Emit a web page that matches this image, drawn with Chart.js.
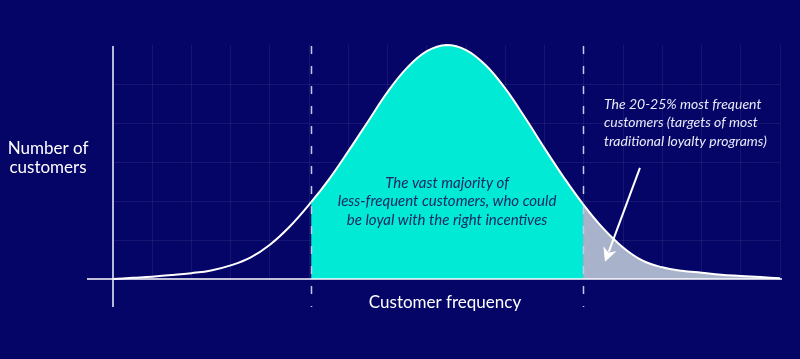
<!DOCTYPE html>
<html><head><meta charset="utf-8">
<script src="https://cdn.jsdelivr.net/npm/chart.js@4"></script>
<style>
html,body{margin:0;padding:0;background:#050568;}
#wrap{width:800px;height:359px;position:relative;}
</style>
</head><body>
<div id="wrap"><canvas id="c"></canvas></div>
<script>
// Customer frequency (x, in grid units) and number of customers (y, in grid units)
const frequency = [0,0.5,1,1.5,2,2.5,3,3.5,4,4.5,5.05,5.5,6,6.5,7,7.5,8,8.5,9,9.5,10,10.5,11,11.5,11.98,12.5,13,13.5,14,14.5,15,15.5,16,16.5,17];
const customers = [0,0.03,0.06,0.10,0.15,0.22,0.35,0.55,0.88,1.34,1.97,2.55,3.28,4.04,4.80,5.42,5.84,6.00,5.87,5.48,4.88,4.14,3.35,2.59,1.92,1.29,0.81,0.47,0.30,0.21,0.16,0.11,0.08,0.05,0.02];
const lowBound = 5.05;    // start of "vast majority" band
const highBound = 11.98;  // start of "most frequent" tail
const yAxisLabel = ['Number of', 'customers'];
const xAxisLabel = 'Customer frequency';
const majorityNote = ['The vast majority of', 'less-frequent customers, who could', 'be loyal with the right incentives'];
const frequentNote = ['The 20-25% most frequent', 'customers (targets of most', 'traditional loyalty programs)'];

const BG = '#050568', TEAL = '#00ead6', GREY = '#a8b3cb', GRID = 'rgba(255,255,255,0.07)', LAV = '#b6b8de';

const decor = {
  id: 'decor',
  beforeDraw(chart) {
    const ctx = chart.ctx;
    ctx.save();
    ctx.fillStyle = BG;
    ctx.fillRect(0, 0, chart.width, chart.height);
    ctx.restore();
  },
  afterDatasetsDraw(chart) {
    const ctx = chart.ctx, xs = chart.scales.x, ys = chart.scales.y;
    const top = ys.getPixelForValue(6) + 1, base = ys.getPixelForValue(0);
    const ext = base + 28;
    ctx.save();
    // y axis line
    const x0 = xs.getPixelForValue(0);
    ctx.strokeStyle = LAV; ctx.lineWidth = 2;
    ctx.beginPath(); ctx.moveTo(x0, top); ctx.lineTo(x0, ext); ctx.stroke();
    // baseline
    ctx.strokeStyle = '#ffffff'; ctx.lineWidth = 1.5;
    ctx.beginPath(); ctx.moveTo(x0 - 26, base); ctx.lineTo(xs.getPixelForValue(17) + 2, base); ctx.stroke();
    // dashed boundaries
    ctx.strokeStyle = '#c8c8ea'; ctx.lineWidth = 1.5; ctx.setLineDash([8, 12]);
    [lowBound, highBound].forEach(v => {
      const px = Math.round(xs.getPixelForValue(v)) + 0.5;
      ctx.beginPath(); ctx.moveTo(px, top); ctx.lineTo(px, ext); ctx.stroke();
    });
    ctx.setLineDash([]);
    // arrow
    const ax1 = xs.getPixelForValue(13.43), ay1 = ys.getPixelForValue(2.85);
    const ax2 = xs.getPixelForValue(12.54), ay2 = ys.getPixelForValue(0.44);
    const ang = Math.atan2(ay2 - ay1, ax2 - ax1);
    const hl = 14, hw = 7;
    const bx = ax2 - hl * Math.cos(ang), by = ay2 - hl * Math.sin(ang);
    ctx.strokeStyle = '#ffffff'; ctx.fillStyle = '#ffffff'; ctx.lineWidth = 2;
    ctx.beginPath(); ctx.moveTo(ax1, ay1); ctx.lineTo(bx + 3 * Math.cos(ang), by + 3 * Math.sin(ang)); ctx.stroke();
    ctx.beginPath();
    ctx.moveTo(ax2, ay2);
    ctx.lineTo(bx + hw * Math.sin(ang), by - hw * Math.cos(ang));
    ctx.lineTo(bx + 4 * Math.cos(ang), by + 4 * Math.sin(ang));
    ctx.lineTo(bx - hw * Math.sin(ang), by + hw * Math.cos(ang));
    ctx.closePath(); ctx.fill();
    // texts
    ctx.textBaseline = 'middle';
    ctx.textAlign = 'center';
    ctx.fillStyle = '#ffffff';
    ctx.font = '17px Lato';
    ctx.fillText(yAxisLabel[0], 48, 149);
    ctx.fillText(yAxisLabel[1], 48, 168);
    ctx.fillText(xAxisLabel, 445, 303);
    ctx.font = 'italic 15px Lato';
    ctx.fillStyle = '#1a2864';
    const mid = (xs.getPixelForValue(lowBound) + xs.getPixelForValue(highBound)) / 2;
    majorityNote.forEach((t, i) => ctx.fillText(t, mid, 183 + i * 18.5));
    ctx.textAlign = 'left';
    ctx.font = 'italic 14px Lato';
    ctx.fillStyle = '#e8e9f8';
    frequentNote.forEach((t, i) => ctx.fillText(t, 604, 104 + i * 18.5));
    ctx.restore();
  }
};

new Chart(document.getElementById('c'), {
  type: 'line',
  data: {
    datasets: [{
      data: frequency.map((f, i) => ({ x: f, y: customers[i] })),
      borderColor: '#ffffff',
      borderWidth: 2,
      pointRadius: 0,
      tension: 0.4,
      fill: 'origin',
      backgroundColor: 'transparent',
      clip: false,
      segment: {
        backgroundColor: c => {
          const a = c.p0.parsed.x;
          if (a >= highBound - 0.001) return GREY;
          if (a >= lowBound - 0.001) return TEAL;
          return 'transparent';
        }
      }
    }]
  },
  options: {
    responsive: true,
    maintainAspectRatio: false,
    animation: false,
    layout: { padding: { left: 113, right: 20, top: 45, bottom: 80 } },
    plugins: { legend: { display: false }, tooltip: { enabled: false } },
    scales: {
      x: {
        type: 'linear', min: 0, max: 17,
        ticks: { display: false, stepSize: 1 },
        grid: { color: c => (c.tick && c.tick.value > 0) ? GRID : 'transparent', drawTicks: false, lineWidth: 1 },
        border: { display: false }
      },
      y: {
        type: 'linear', min: 0, max: 6,
        ticks: { display: false, stepSize: 1 },
        grid: { color: c => (c.tick && c.tick.value > 0 && c.tick.value < 6) ? GRID : 'transparent', drawTicks: false },
        border: { display: false }
      }
    }
  },
  plugins: [decor]
});
</script>
</body></html>
